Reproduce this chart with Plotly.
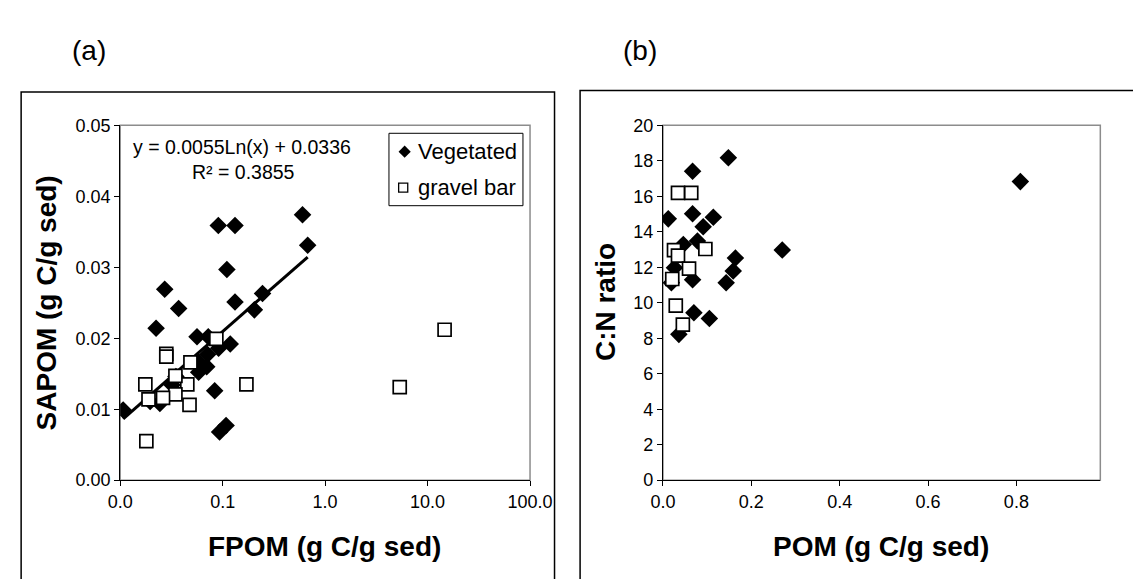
import numpy as np
import plotly.graph_objects as go

# ---------------- data ----------------
# (a) SAPOM vs FPOM (g C / g sed)
fpom_veg = [0.0107, 0.0907, 0.132, 0.602, 0.676, 0.110, 0.0272, 0.0372, 0.132, 0.245,
            0.204, 0.0224, 0.0562, 0.0724, 0.1186, 0.0913, 0.0713, 0.0583, 0.0699, 0.0583,
            0.035, 0.0321, 0.0836, 0.0196, 0.0244, 0.0933, 0.108]
sapom_veg = [0.0099, 0.0359, 0.0359, 0.0374, 0.0331, 0.0297, 0.0269, 0.0242, 0.0251, 0.0263,
             0.0240, 0.0214, 0.0202, 0.0202, 0.0192, 0.0186, 0.0177, 0.0166, 0.0160, 0.0152,
             0.0146, 0.0134, 0.0126, 0.0111, 0.0108, 0.0068, 0.0077]

fpom_grv = [0.0282, 0.0282, 0.0485, 0.0868, 0.0176, 0.0452, 0.1706, 0.0346, 0.0346,
            0.0262, 0.0189, 0.0475, 0.0180, 14.66, 5.35]
sapom_grv = [0.0178, 0.0174, 0.0166, 0.0199, 0.0135, 0.0135, 0.0135, 0.0147, 0.0121,
             0.0116, 0.0114, 0.0106, 0.0055, 0.0212, 0.0131]

# logarithmic trendline of the vegetated series
TREND_A = 0.0055
TREND_B = 0.0336
TREND_R2 = 0.3855

# (b) C:N ratio vs POM (g C / g sed)
pom_veg = [0.012, 0.148, 0.067, 0.067, 0.114, 0.091, 0.078, 0.046, 0.270, 0.164,
           0.159, 0.026, 0.067, 0.143, 0.019, 0.809, 0.070, 0.105, 0.036]
cn_veg = [14.73, 18.17, 17.41, 15.02, 14.82, 14.29, 13.48, 13.28, 12.97, 12.52,
          11.79, 11.97, 11.30, 11.13, 11.13, 16.83, 9.44, 9.11, 8.22]

pom_grv = [0.034, 0.064, 0.025, 0.034, 0.096, 0.059, 0.021, 0.029, 0.045]
cn_grv = [16.20, 16.20, 12.97, 12.66, 13.03, 11.92, 11.34, 9.84, 8.77]

fpom_ticks = [0.01, 0.1, 1, 10, 100]
fpom_ticktext = ["0.0", "0.1", "1.0", "10.0", "100.0"]
sapom_ticks = [0.00, 0.01, 0.02, 0.03, 0.04, 0.05]
pom_ticks = [0.0, 0.2, 0.4, 0.6, 0.8]
cn_ticks = list(range(0, 21, 2))

series_names = ["Vegetated", "gravel bar"]

# ---------------- layout helpers ----------------
W, H = 1133, 579
FONT = "Arial, Liberation Sans, sans-serif"


def px(x):
    return x / W


def py(y):
    return 1 - y / H


left_dom_x = [px(110.7), px(534)]
right_dom_x = [px(671.3), px(1123)]
dom_y = [py(487), py(119.5)]

fig = go.Figure()

# trendline
xt = np.logspace(np.log10(min(fpom_veg)), np.log10(max(fpom_veg)), 60)
yt = TREND_A * np.log(xt) + TREND_B
fig.add_trace(go.Scatter(x=xt, y=yt, mode="lines", line=dict(color="black", width=3),
                         xaxis="x", yaxis="y", showlegend=False, hoverinfo="skip"))

diamond = dict(symbol="diamond", size=13.5, color="black", line=dict(width=0))
square_fill = dict(symbol="square", size=13, color="white", line=dict(width=1.7, color="black"))

fig.add_trace(go.Scatter(x=fpom_veg, y=sapom_veg, mode="markers", marker=diamond,
                         name=series_names[0], xaxis="x", yaxis="y", showlegend=False))
fig.add_trace(go.Scatter(x=fpom_grv, y=sapom_grv, mode="markers", marker=square_fill,
                         name=series_names[1], xaxis="x", yaxis="y", showlegend=False))

fig.add_trace(go.Scatter(x=pom_veg, y=cn_veg, mode="markers", marker=diamond,
                         name=series_names[0], xaxis="x2", yaxis="y2", showlegend=False))
fig.add_trace(go.Scatter(x=pom_grv, y=cn_grv, mode="markers", marker=square_fill,
                         name=series_names[1], xaxis="x2", yaxis="y2", showlegend=False))

axis_common = dict(showgrid=False, zeroline=False, showline=True, linecolor="black",
                   linewidth=1.3, ticks="outside", ticklen=5, tickwidth=1.2,
                   tickcolor="black", tickfont=dict(family=FONT, size=18, color="black"),
                   fixedrange=True)

fig.update_layout(
    width=W, height=H, margin=dict(l=0, r=0, t=0, b=0),
    paper_bgcolor="white", plot_bgcolor="white",
    font=dict(family=FONT, color="black"),
    xaxis=dict(domain=left_dom_x, anchor="y", type="log", range=[-2, 2],
               tickvals=fpom_ticks, ticktext=fpom_ticktext, **axis_common),
    yaxis=dict(domain=dom_y, anchor="x", range=[0, 0.05], tickvals=sapom_ticks,
               tickformat=".2f", **axis_common),
    xaxis2=dict(domain=right_dom_x, anchor="y2", range=[0, 0.99], tickvals=pom_ticks,
                tickformat=".1f", **axis_common),
    yaxis2=dict(domain=dom_y, anchor="x2", range=[0, 20], tickvals=cn_ticks,
                **axis_common),
    showlegend=False,
)

shapes = []
# grey plot-area borders (top and right sides)
for xr, yr in (("x domain", "y domain"), ("x2 domain", "y2 domain")):
    shapes.append(dict(type="rect", xref=xr, yref=yr, x0=0, x1=1, y0=0, y1=1,
                       line=dict(color="#8c8c8c", width=1.5), layer="below"))
# outer chart frames
shapes.append(dict(type="rect", xref="paper", yref="paper", x0=px(8.4), x1=px(559.3),
                   y0=-0.2, y1=py(85), line=dict(color="black", width=1.5), layer="below"))
shapes.append(dict(type="rect", xref="paper", yref="paper", x0=px(585.7), x1=1.2,
                   y0=-0.2, y1=py(83.5), line=dict(color="black", width=1.5), layer="below"))

# legend box with key symbols
LEG_X0, LEG_Y0, LEG_X1, LEG_Y1 = 388.3, 127.7, 526.7, 202.7
leg_rows = [(series_names[0], 146.7), (series_names[1], 184.0)]
shapes.append(dict(type="rect", xref="paper", yref="paper", x0=px(LEG_X0), x1=px(LEG_X1),
                   y0=py(LEG_Y1), y1=py(LEG_Y0), line=dict(color="black", width=1),
                   fillcolor="white", layer="above"))
kx, ky, kr = 404.5, leg_rows[0][1], 6.3
shapes.append(dict(type="path", xref="paper", yref="paper",
                   path=f"M{px(kx - kr)},{py(ky)} L{px(kx)},{py(ky - kr)} "
                        f"L{px(kx + kr)},{py(ky)} L{px(kx)},{py(ky + kr)} Z",
                   fillcolor="black", line=dict(width=0), layer="above"))
sx, sy, sr = 403.0, leg_rows[1][1], 4.7
shapes.append(dict(type="rect", xref="paper", yref="paper",
                   x0=px(sx - sr), x1=px(sx + sr), y0=py(sy + sr), y1=py(sy - sr),
                   fillcolor="white", line=dict(color="black", width=1.3), layer="above"))
fig.update_layout(shapes=shapes)

ann = []


def text(x, y, s, size, bold=False, angle=0, xanchor="center"):
    ann.append(dict(x=px(x), y=py(y), xref="paper", yref="paper",
                    text=f"<b>{s}</b>" if bold else s,
                    showarrow=False, textangle=angle, xanchor=xanchor, yanchor="middle",
                    font=dict(family=FONT, size=size, color="black")))


text(79, 42, "(a)", 28)
text(648, 42, "(b)", 28)
text(237, 141.5, f"y = {TREND_A:.4f}Ln(x) + {TREND_B:.4f}", 19.5)
text(238, 167.5, f"R² = {TREND_R2:.4f}", 19.5)
for label, yy in leg_rows:
    text(416.5, yy, label, 22, xanchor="left")
text(322, 556, "FPOM (g C/g sed)", 28, bold=True)
text(897, 556, "POM (g C/g sed)", 28, bold=True)
text(35, 303, "SAPOM (g C/g sed)", 28, bold=True, angle=-90)
text(612, 303, "C:N ratio", 28, bold=True, angle=-90)
fig.update_layout(annotations=ann)

fig.write_html("out.html")
